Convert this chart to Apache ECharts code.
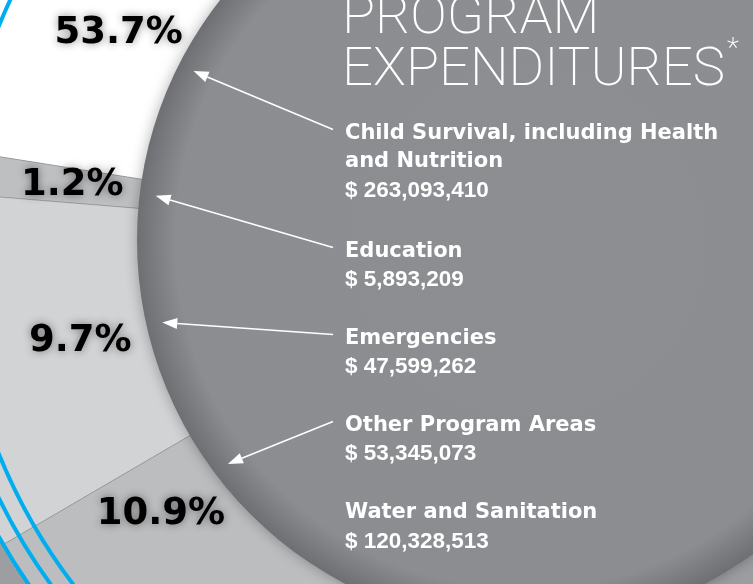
<!DOCTYPE html>
<html>
<head>
<meta charset="utf-8">
<title>Program Expenditures</title>
<script src="https://cdn.jsdelivr.net/npm/echarts@6/dist/echarts.min.js"></script>
<style>
  html, body { margin: 0; padding: 0; background: #9d9ea1; }
  #c_chart { width: 753px; height: 584px; }
</style>
</head>
<body>
<div id="c_chart"></div>
<script>
// program areas, from the top of the ring downwards
const categories = ['Child Survival, including Health and Nutrition', 'Education', 'Emergencies', 'Other Program Areas', 'Water and Sanitation']
const amounts = [263093410, 5893209, 47599262, 53345073, 120328513]
const percents = [53.7, 1.2, 9.7, 10.9, 24.5]

// layout
const CX = 525
const CY = 240
const HOLE_R = 388
const RING_R = 605
const LABEL_R = 456
const TIP_R = 372
const FIRST_EDGE = 171 // angle of the edge between the first and second slice
const LABEL_WINDOW = [153, 217] // angles where a percent label still fits on the page
const sliceColors = ['#ffffff', '#bebfc1', '#d2d3d5', '#bcbdbf', '#9c9da0']
const DESC_X = 345
const DESC_Y = [133.5, 251.5, 338.5, 425.5, 513]
const LINE_H = 28.5
const NAME_FONT = 'bold 21px "DejaVu Sans"'
const AMOUNT_FONT = 'bold 22.5px "Liberation Sans"'
const TITLE_SIZE = 54.5

const total = amounts.reduce((a, b) => a + b, 0)
const startAngle = FIRST_EDGE - 360 * amounts[0] / total

function sliceRange (i) {
  let s = startAngle
  for (let j = 0; j < i; j++) s += 360 * amounts[j] / total
  return [s, s + 360 * amounts[i] / total]
}

// middle of the slice, pulled into the visible window but kept on the slice
function labelAngle (i) {
  const [s, e] = sliceRange(i)
  const lo = Math.max(s + 2, LABEL_WINDOW[0])
  const hi = Math.min(e - 2, LABEL_WINDOW[1])
  if (lo > hi) return null
  return Math.min(Math.max((s + e) / 2, lo), hi)
}

function polar (deg, r) {
  const a = deg * Math.PI / 180
  return [CX + r * Math.cos(a), CY - r * Math.sin(a)]
}

const measureCtx = document.createElement('canvas').getContext('2d')
function wrap (text, font, maxWidth) {
  measureCtx.font = font
  const lines = []
  let line = ''
  text.split(' ').forEach(w => {
    const test = line ? line + ' ' + w : w
    if (line && measureCtx.measureText(test).width > maxWidth) {
      lines.push(line)
      line = w
    } else {
      line = test
    }
  })
  lines.push(line)
  return lines
}

const graphics = []

// blue rings round the outside
;[568, 586, 604].forEach(r => {
  graphics.push({
    type: 'circle',
    z: 5,
    silent: true,
    shape: { cx: CX, cy: CY, r: r },
    style: { fill: 'none', stroke: '#00aeef', lineWidth: 4 }
  })
})

// grey disc in the middle
graphics.push({
  type: 'circle',
  z: 10,
  silent: true,
  shape: { cx: CX, cy: CY, r: HOLE_R },
  style: {
    fill: new echarts.graphic.RadialGradient(0.5, 0.5, 0.5, [
      { offset: 0, color: '#8c8e92' },
      { offset: 0.9, color: '#8b8d91' },
      { offset: 1, color: '#6d6f73' }
    ]),
    shadowBlur: 14,
    shadowColor: 'rgba(0,0,0,0.3)'
  }
})

// title
graphics.push({
  type: 'text',
  z: 20,
  x: DESC_X - 3,
  y: 19,
  style: { text: 'PROGRAM', fill: '#fff', fontFamily: 'Roboto', fontWeight: 200, fontSize: TITLE_SIZE, verticalAlign: 'middle' }
})
graphics.push({
  type: 'text',
  z: 20,
  x: DESC_X - 3,
  y: 71,
  style: { text: 'EXPENDITURES', fill: '#fff', fontFamily: 'Roboto', fontWeight: 200, fontSize: TITLE_SIZE, verticalAlign: 'middle' }
})
graphics.push({
  type: 'text',
  z: 20,
  x: 727,
  y: 50,
  style: { text: '*', fill: '#fff', fontFamily: 'Roboto', fontWeight: 200, fontSize: 28, verticalAlign: 'middle' }
})

// descriptions and arrows
categories.forEach((name, i) => {
  const lines = wrap(name, NAME_FONT, 390)
  graphics.push({
    type: 'text',
    z: 20,
    x: DESC_X,
    y: DESC_Y[i] - LINE_H / 2,
    style: { text: lines.join('\n'), fill: '#fff', font: NAME_FONT, lineHeight: LINE_H, verticalAlign: 'top' }
  })
  graphics.push({
    type: 'text',
    z: 20,
    x: DESC_X,
    y: DESC_Y[i] + LINE_H * lines.length,
    style: { text: '$ ' + amounts[i].toLocaleString('en-US'), fill: '#fff', font: AMOUNT_FONT, verticalAlign: 'middle' }
  })

  const a = labelAngle(i)
  if (a === null) return
  const tip = polar(a, TIP_R)
  const tail = [DESC_X - 12, DESC_Y[i] - 4]
  const dx = tip[0] - tail[0]
  const dy = tip[1] - tail[1]
  const len = Math.sqrt(dx * dx + dy * dy)
  const ux = dx / len
  const uy = dy / len
  const base = [tip[0] - ux * 15, tip[1] - uy * 15]
  graphics.push({
    type: 'line',
    z: 20,
    silent: true,
    shape: { x1: tail[0], y1: tail[1], x2: base[0], y2: base[1] },
    style: { stroke: '#fff', lineWidth: 1.6 }
  })
  graphics.push({
    type: 'polygon',
    z: 20,
    silent: true,
    shape: { points: [tip, [base[0] - uy * 5.5, base[1] + ux * 5.5], [base[0] + uy * 5.5, base[1] - ux * 5.5]] },
    style: { fill: '#fff' }
  })
})

const chart = echarts.init(document.getElementById('c_chart'))
const option = {
  backgroundColor: '#9d9ea1',
  animation: false,
  graphic: { elements: graphics },
  series: [{
    type: 'pie',
    center: [CX, CY],
    radius: [HOLE_R - 4, RING_R],
    startAngle: ((startAngle % 360) + 360) % 360,
    clockwise: false,
    silent: true,
    avoidLabelOverlap: false,
    data: amounts.map((v, i) => ({ value: v, name: categories[i], itemStyle: { color: sliceColors[i] } })),
    itemStyle: { borderColor: 'rgba(110,112,116,0.35)', borderWidth: 1 },
    label: {
      show: true,
      position: 'inside',
      formatter: p => percents[p.dataIndex].toFixed(1) + '%',
      color: '#000',
      fontFamily: 'DejaVu Sans',
      fontWeight: 'bold',
      fontSize: 37,
      textShadowColor: 'rgba(0,0,0,0.45)',
      textShadowBlur: 8
    },
    labelLine: { show: false },
    labelLayout: p => {
      const a = labelAngle(p.dataIndex)
      if (a === null) return {}
      const pos = polar(a, LABEL_R)
      return { x: pos[0], y: pos[1], align: 'center', verticalAlign: 'middle' }
    },
    emphasis: { disabled: true }
  }]
}
chart.setOption(option)
window.addEventListener('resize', function () {
  chart.resize()
})
</script>
</body>
</html>
